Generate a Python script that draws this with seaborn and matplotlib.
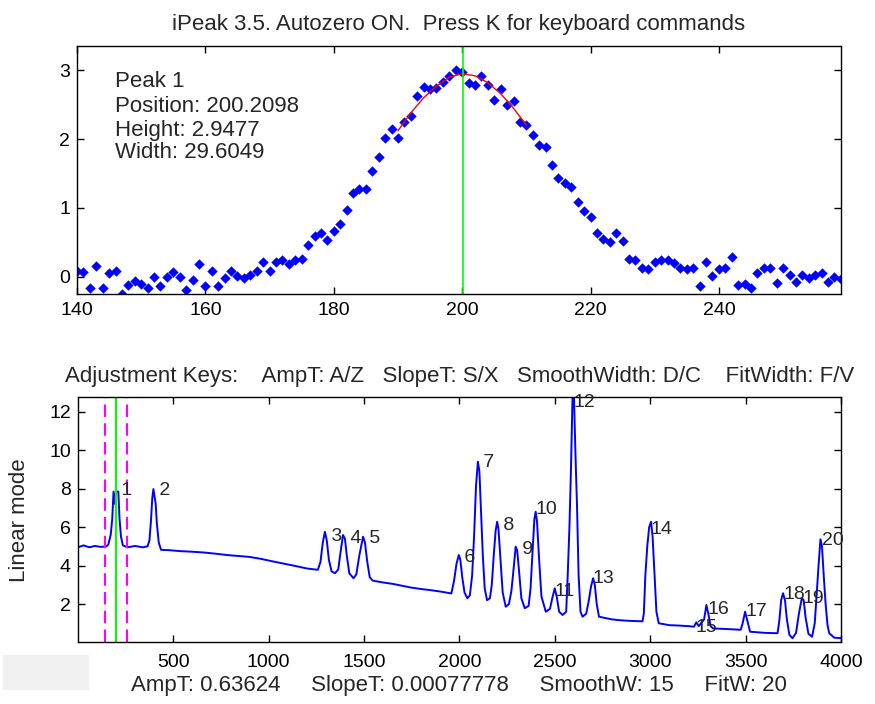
import numpy as np
import pandas as pd
import matplotlib
matplotlib.use("Agg")
import matplotlib.pyplot as plt
import seaborn as sns

# upper panel: data points around peak 1 (x, y)
seg_x = list(range(140, 260))
seg_y = [0.09, 0.07, -0.17, 0.16, -0.17, 0.06, 0.09, -0.25, -0.12, -0.06,
         -0.10, -0.17, -0.01, -0.14, -0.01, 0.07, 0.00, -0.19, -0.04, 0.18,
         -0.14, 0.09, -0.13, -0.02, 0.09, 0.01, -0.02, 0.03, 0.09, 0.22,
         0.09, 0.22, 0.24, 0.18, 0.24, 0.26, 0.46, 0.59, 0.63, 0.53,
         0.67, 0.77, 0.97, 1.21, 1.28, 1.27, 1.53, 1.74, 2.01, 2.14,
         2.01, 2.25, 2.34, 2.62, 2.75, 2.73, 2.74, 2.83, 2.91, 3.01,
         2.98, 2.81, 2.79, 2.91, 2.78, 2.57, 2.73, 2.50, 2.55, 2.25,
         2.21, 2.06, 1.92, 1.89, 1.63, 1.43, 1.36, 1.30, 1.08, 0.96,
         0.87, 0.64, 0.55, 0.50, 0.63, 0.52, 0.26, 0.24, 0.13, 0.11,
         0.22, 0.24, 0.24, 0.20, 0.13, 0.11, 0.13, -0.14, 0.22, 0.01,
         0.11, 0.13, 0.29, -0.12, -0.11, -0.17, 0.06, 0.13, 0.13, -0.09,
         0.13, 0.02, -0.07, 0.03, -0.02, 0.03, 0.06, -0.07, -0.01, -0.03]

# red fitted curve over the fit window
fit_x = [190, 192, 194, 196, 198, 200, 202, 204, 206, 208, 210]
fit_y = [2.12, 2.38, 2.60, 2.77, 2.90, 2.95, 2.92, 2.82, 2.66, 2.45, 2.20]

# lower panel: full signal
trace_x = [0, 30, 60, 90, 120, 150, 160, 172, 180, 187, 195, 200, 212, 218, 226, 236,
           260, 300, 340, 365, 375, 383, 390, 396, 402, 408, 414, 424, 436,
           480, 540, 600, 660, 720, 780, 840, 900, 960, 1020, 1080, 1140, 1200,
           1258, 1272, 1284, 1295, 1305, 1316, 1330, 1348, 1365, 1377, 1390, 1400,
           1410, 1423, 1445, 1460, 1475, 1495, 1505, 1517, 1530, 1545,
           1600, 1650, 1700, 1750, 1800, 1850, 1900, 1958,
           1972, 1985, 1997, 2005, 2015, 2027, 2042, 2055, 2067, 2077, 2087, 2097,
           2105, 2113, 2123, 2133, 2145, 2160, 2170, 2180, 2190, 2198, 2205, 2215,
           2227, 2243, 2260, 2273, 2285, 2295, 2303, 2313, 2325, 2343, 2363, 2373,
           2383, 2393, 2400, 2407, 2417, 2430, 2453, 2475, 2487, 2500, 2510, 2523,
           2541, 2560, 2568, 2577, 2585, 2593, 2601, 2608, 2617, 2625, 2635, 2646,
           2665, 2677, 2690, 2701, 2710, 2720, 2732, 2800, 2850, 2900, 2960,
           2967, 2975, 2985, 2995, 3005, 3013, 3023, 3033, 3045, 3100, 3150, 3200,
           3230, 3242, 3255, 3283, 3295, 3305, 3317, 3330, 3400, 3475, 3485, 3498,
           3508, 3524, 3600, 3668, 3677, 3687, 3697, 3707, 3717, 3730, 3746, 3765,
           3780, 3795, 3805, 3815, 3830, 3849, 3863, 3873, 3883, 3893, 3901, 3910,
           3920, 3930, 3939, 3965, 4000]
trace_y = [4.95, 5.05, 4.95, 5.02, 4.97, 5.0, 5.1, 5.6, 6.4, 7.85, 7.2, 7.85, 7.85, 6.5, 5.5, 5.05,
           4.95, 5.02, 4.95, 5.0, 5.3, 6.3, 7.5, 7.98, 7.6, 7.2, 6.2, 5.2, 4.82,
           4.8, 4.75, 4.72, 4.68, 4.62, 4.55, 4.5, 4.45, 4.35, 4.22, 4.1, 3.98, 3.85,
           3.78, 4.2, 5.2, 5.76, 5.3, 4.3, 3.7, 3.6, 3.8, 4.7, 5.59, 5.4,
           4.5, 3.6, 3.34, 3.55, 4.5, 5.5, 5.2, 4.2, 3.4, 3.22,
           3.12, 3.05, 2.95, 2.85, 2.78, 2.72, 2.65, 2.55,
           3.2, 4.1, 4.55, 4.3, 3.4, 2.6, 2.3, 2.45, 3.5, 5.5, 8.1, 9.4,
           8.9, 7.0, 4.5, 2.8, 2.2, 2.3, 3.0, 4.5, 5.8, 6.28, 5.9, 4.4,
           2.6, 1.86, 2.0, 2.7, 3.9, 4.98, 4.8, 3.7, 2.3, 1.78, 1.9, 2.8,
           4.6, 6.4, 6.8, 6.3, 4.5, 2.4, 1.6, 1.75, 2.3, 2.82, 2.4, 1.6,
           1.43, 1.6, 3.5, 6.0, 9.0, 12.7, 12.7, 10.0, 7.0, 3.5, 1.6, 1.34,
           1.5, 2.1, 2.9, 3.34, 3.0, 2.0, 1.34, 1.2, 1.15, 1.12, 1.1,
           1.5, 3.5, 5.0, 6.0, 6.28, 5.5, 3.5, 1.6, 1.0, 0.9, 0.88, 0.85,
           0.82, 1.05, 0.85, 1.2, 1.95, 1.5, 0.85, 0.73, 0.7, 0.66, 1.0, 1.6,
           1.2, 0.56, 0.5, 0.48, 1.1, 2.2, 2.56, 2.2, 1.2, 0.4, 0.22, 0.5,
           1.5, 2.3, 2.2, 1.3, 0.45, 0.3, 1.0, 2.5, 4.0, 5.37, 5.0, 3.5,
           2.0, 0.9, 0.48, 0.25, 0.22]

# detected peaks (number, position, height) for the labels
peak_num = list(range(1, 21))
peak_pos = [200, 400, 1300, 1400, 1500, 2000, 2100, 2200, 2300, 2400,
            2500, 2600, 2700, 3000, 3240, 3300, 3500, 3700, 3800, 3900]
peak_hgt = [7.93, 7.93, 5.5, 5.42, 5.42, 4.43, 9.37, 6.11, 4.86, 6.94,
            2.64, 12.49, 3.34, 5.9, 0.79, 1.72, 1.6, 2.47, 2.31, 5.33]

peak1_info = ["Peak 1", "Position: 200.2098", "Height: 2.9477", "Width: 29.6049"]

sns.set_style("ticks")
plt.rcParams['font.family'] = ['Liberation Sans', 'DejaVu Sans']
plt.rcParams.update({
    'font.size': 14,
    'xtick.direction': 'in', 'ytick.direction': 'in',
    'xtick.top': True, 'ytick.right': True,
    'xtick.major.size': 5, 'ytick.major.size': 5,
    'xtick.major.width': 1, 'ytick.major.width': 1,
    'xtick.major.pad': 8, 'ytick.major.pad': 5,
    'xtick.color': 'black', 'ytick.color': 'black',
    'axes.edgecolor': 'black', 'axes.linewidth': 1,
    'xtick.labelsize': 14, 'ytick.labelsize': 14,
})

TXT = 16

fig = plt.figure(figsize=(8.75, 7.04), dpi=100)
ax1 = fig.add_axes([0.088, 0.5824, 0.873, 0.352])
ax2 = fig.add_axes([0.089, 0.0874, 0.872, 0.3487])

# --- upper panel
df_seg = pd.DataFrame({'x': seg_x, 'y': seg_y})
sns.scatterplot(data=df_seg, x='x', y='y', marker='D', s=28, color='#0000ff',
                edgecolor='#0000ff', linewidth=0, ax=ax1, legend=False)
df_fit = pd.DataFrame({'x': fit_x, 'y': fit_y})
sns.lineplot(data=df_fit, x='x', y='y', color='#ff0000', lw=1, ax=ax1, estimator=None)
ax1.axvline(200.2098, color='#00ff00', lw=1.2)
ax1.set_xlim(140, 259)
ax1.set_ylim(-0.25, 3.35)
ax1.set_xticks([140, 160, 180, 200, 220, 240])
ax1.set_yticks([0, 1, 2, 3])
ax1.tick_params(axis='x', pad=6)
ax1.set_xlabel('')
ax1.set_ylabel('')
ax1.set_title('iPeak 3.5. Autozero ON.  Press K for keyboard commands', fontsize=TXT, pad=12)
for yf, line in zip([0.856, 0.755, 0.661, 0.569], peak1_info):
    ax1.text(0.05, yf, line, transform=ax1.transAxes, ha='left', va='center', fontsize=TXT)

# --- lower panel
df_tr = pd.DataFrame({'x': trace_x, 'y': trace_y})
sns.lineplot(data=df_tr, x='x', y='y', color='#0000ff', lw=1.4, ax=ax2, estimator=None, sort=False)
for xv in (140, 259):
    ax2.axvline(xv, color='#ff00ff', lw=1.5, ls=(0, (6, 3)))
ax2.axvline(200.2098, color='#00ff00', lw=1.5)
for n, px, py in zip(peak_num, peak_pos, peak_hgt):
    lab = f" {n}" if n < 10 else f"{n}"
    ax2.text(px, py, lab, ha='left', va='center', fontsize=14)
ax2.set_xlim(0, 4000)
ax2.set_ylim(0, 12.77)
ax2.set_xticks([500, 1000, 1500, 2000, 2500, 3000, 3500, 4000])
ax2.set_yticks([2, 4, 6, 8, 10, 12])
ax2.set_title('Adjustment Keys:    AmpT: A/Z   SlopeT: S/X   SmoothWidth: D/C    FitWidth: F/V',
              fontsize=TXT, pad=11)
ax2.set_xlabel('AmpT: 0.63624     SlopeT: 0.00077778     SmoothW: 15     FitW: 20',
               fontsize=TXT, labelpad=3)
ax2.set_ylabel('Linear mode', fontsize=TXT, labelpad=14)

# grey panel at bottom-left
fig.patches.append(plt.Rectangle((3 / 875, 1 - 689 / 704), 85 / 875, 34 / 704,
                                 transform=fig.transFigure, color='#f0f0f0', zorder=0))

fig.savefig('out.png', dpi=100)
